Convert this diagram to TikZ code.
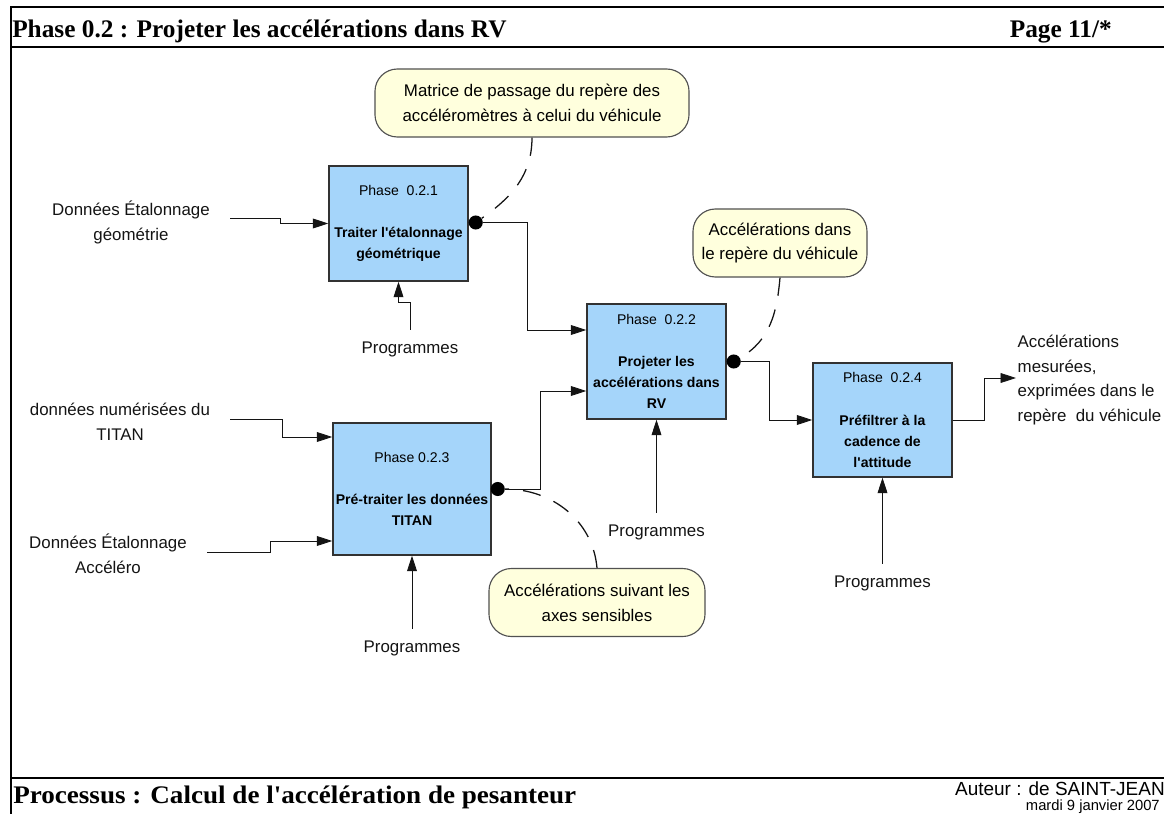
\documentclass[tikz,border=0pt]{standalone}
\usepackage{fontspec}
\setmainfont{Liberation Sans}[Ligatures=TeXOff]
\newfontfamily\headfont{Liberation Serif}
\newfontfamily\footfont{Liberation Serif}[FakeStretch=1.07]
\usetikzlibrary{arrows.meta,calc}
\definecolor{procfill}{RGB}{165,213,250}
\definecolor{notefill}{RGB}{255,255,221}
\definecolor{edge}{RGB}{50,50,50}
\definecolor{ink}{RGB}{20,20,20}
\tikzset{
  proc/.style={draw=edge, fill=procfill, line width=1pt, minimum width=3.475cm,
               minimum height=2.875cm, inner sep=0pt, align=center,
               font=\fontsize{10}{15}\selectfont},
  note/.style={draw=edge!85, fill=notefill, line width=0.8pt, rounded corners=16pt,
               inner sep=0pt, align=center, minimum height=1.7cm,
               font=\fontsize{12}{17.7}\selectfont},
  lbl/.style={inner sep=1pt, align=center, text=ink, font=\fontsize{12}{17.7}\selectfont},
  flow/.style={-{Triangle[length=11pt,width=7pt]}, ink, line width=0.6pt},
  link/.style={ink, line width=0.9pt, dash pattern=on 13pt off 10pt},
  dot/.style={circle, fill=black, minimum size=10pt, inner sep=0pt},
}

\begin{document}
\begin{tikzpicture}[x=0.025cm, y=-0.025cm]
    \useasboundingbox (0,0) rectangle (1164,814);
    % page frame
    \draw[line width=0.9pt] (1164,7) -- (11,7) -- (11,814);
    \draw[line width=1.7pt] (11,47) -- (1164,47);
    \draw[line width=1.7pt] (11,778) -- (1164,778);
    \node[anchor=base west, inner sep=0pt, font=\headfont\bfseries\fontsize{18}{20}\selectfont]
      (title) at (12,38) {Phase 0.2 : Projeter les accélérations dans RV};
    \node[anchor=base east, inner sep=0pt, font=\headfont\bfseries\fontsize{18}{20}\selectfont]
      (page) at (1112,38) {Page 11/*};
    \node[anchor=base west, inner sep=0pt, font=\footfont\bfseries\fontsize{18}{20}\selectfont]
      (proc) at (13,803) {Processus : Calcul de l'accélération de pesanteur};
    \node[anchor=base east, inner sep=0pt, font=\fontsize{13.5}{15}\selectfont]
      (author) at (1165,795) {Auteur : de SAINT-JEAN};
    \node[anchor=base east, inner sep=0pt, font=\fontsize{10.5}{12}\selectfont]
      (date) at (1160,810) {mardi 9 janvier 2007};

    % phases
    \node[proc] (p1) at (398.5,223.5)
      {Phase~~0.2.1\\[15pt]\textbf{Traiter l'étalonnage}\\\textbf{géométrique}};
    \node[proc] (p2) at (656.5,361.5)
      {Phase~~0.2.2\\[15pt]\textbf{Projeter les}\\\textbf{accélérations dans}\\\textbf{RV}};
    \node[proc, minimum width=3.95cm, minimum height=3.3cm] (p3) at (412,489)
      {Phase 0.2.3\\[15pt]\textbf{Pré-traiter les données}\\\textbf{TITAN}};
    \node[proc, minimum height=2.85cm] (p4) at (882.5,420)
      {Phase~~0.2.4\\[15pt]\textbf{Préfiltrer à la}\\\textbf{cadence de}\\\textbf{l'attitude}};

    % notes
    \node[note, minimum width=7.85cm] (c1) at (532,103)
      {Matrice de passage du repère des\\accéléromètres à celui du véhicule};
    \node[note, minimum width=4.35cm] (c2) at (780,243)
      {Accélérations dans\\le repère du véhicule};
    \node[note, minimum width=5.4cm] (c3) at (597,602.5)
      {Accélérations suivant les\\axes sensibles};

    % inputs, controls, output
    \node[lbl] (i1) at (131,222) {Données Étalonnage\\géométrie};
    \node[lbl] (i3a) at (120,422) {données numérisées du\\TITAN};
    \node[lbl] (i3b) at (108,554) {Données Étalonnage\\Accéléro};
    \node[lbl] (g1) at (410,349) {Programmes};
    \node[lbl] (g2) at (656.5,532) {Programmes};
    \node[lbl] (g3) at (412,648) {Programmes};
    \node[lbl] (g4) at (882.5,583) {Programmes};
    \node[lbl, anchor=west, align=left] (out) at (1016,380)
      {Accélérations\\mesurées,\\exprimées dans le\\repère~ du véhicule};

    \node[dot] (d1) at ($(p1.east)+(7,-1)$) {};
    \node[dot] (d2) at ($(p2.east)+(7,0)$) {};
    \node[dot] (d3) at ($(p3.east)+(6,0)$) {};

    \coordinate (s1) at (230,218);
    \coordinate (s3a) at (230,419);
    \coordinate (s3b) at (207,552);

    \draw[flow] (s1) -- ++(50,0) |- (p1.west);
    \draw[flow] ($(g1.north)+(0,-10)$) -- ++(0,-27) -| (p1.south);
    \draw[flow] (d1) -- ++(52,0) |- ($(p2.west)+(0,-31.5)$);
    \draw[flow] (s3a) -- ++(52,0) |- ($(p3.west)+(0,-52)$);
    \draw[flow] (s3b) -- ++(63,0) |- ($(p3.west)+(0,52)$);
    \draw[flow] ($(g3.north)+(0,-10)$) -- (p3.south);
    \draw[flow] (d3) -- ++(43,0) |- ($(p2.west)+(0,29.5)$);
    \draw[flow] ($(g2.north)+(0,-10)$) -- (p2.south);
    \draw[flow] (d2) -- ++(36,0) |- (p4.west);
    \draw[flow] ($(g4.north)+(0,-10)$) -- (p4.south);
    \draw[flow] (p4.east) -- ++(32,0) |- ($(out.west)+(0,-2)$);

    \draw[link] (c1.south) to[out=-90,in=35] (d1);
    \draw[link] (c2.south) to[out=-95,in=30] (d2);
    \draw[link] (c3.north) to[out=95,in=0] (d3);
\end{tikzpicture}
\end{document}
